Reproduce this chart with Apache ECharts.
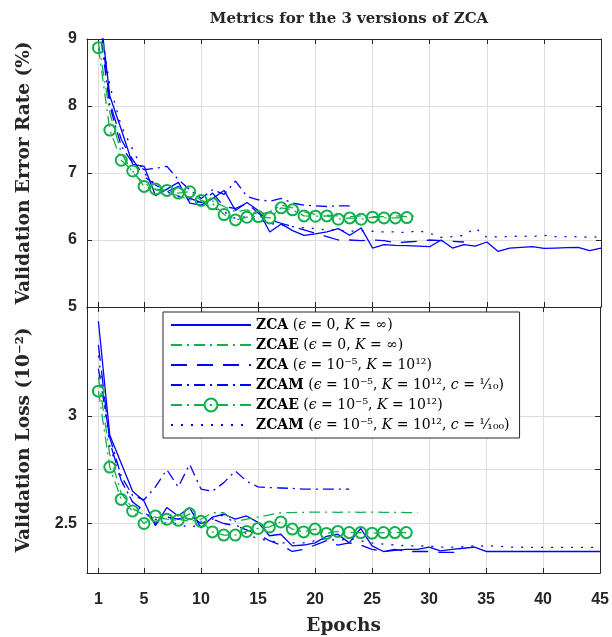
<!DOCTYPE html>
<html><head><meta charset="utf-8">
<script src="https://cdn.jsdelivr.net/npm/echarts@6/dist/echarts.min.js"></script>
<style>html,body{margin:0;padding:0;background:#fff}#c{width:612px;height:637px}</style>
</head><body><div id="c"></div>
<script>
// ---- data ----
const tickEpochs = [1, 5, 10, 15, 20, 25, 30, 35, 40, 45];
const errTicks = [5, 6, 7, 8, 9];
const lossTicks = [2.5, 2.75, 3];
const lossLabels = [2.5, 3];

const seriesNames = [
  'ZCA (eps=0, K=inf)',
  'ZCAE (eps=0, K=inf)',
  'ZCA (eps=1e-5, K=1e12)',
  'ZCAM (eps=1e-5, K=1e12, c=1/10)',
  'ZCAE (eps=1e-5, K=1e12)',
  'ZCAM (eps=1e-5, K=1e12, c=1/100)'
];

// Validation error rate (%)
const errZCA = [9.6, 8.15, 7.65, 7.13, 7.10, 6.66, 6.76, 6.86, 6.55, 6.52, 6.62, 6.74, 6.44, 6.56, 6.44, 6.12, 6.24, 6.14, 6.07, 6.09, 6.12, 6.17, 6.07, 6.18, 5.88, 5.93, 5.92, 5.915, 5.91, 5.90, 6.00, 5.88, 5.93, 5.91, 5.97, 5.83, 5.88, 5.89, 5.90, 5.875, 5.88, 5.885, 5.89, 5.84, 5.88];
const errZCAE0 = [8.95, 7.9, 7.3, 7.0, 6.85, 6.75, 6.72, 6.66, 6.6, 6.56, 6.58, 6.5, 6.42, 6.45, 6.38, 6.42, 6.52, 6.48, 6.42, 6.38, 6.37, 6.36, 6.35, 6.36, 6.35, 6.35, 6.36, 6.35, 6.36];
const errZCAeps = [9.5, 8.05, 7.5, 7.2, 6.95, 6.82, 6.72, 6.8, 6.62, 6.56, 6.7, 6.5, 6.47, 6.55, 6.4, 6.3, 6.25, 6.2, 6.15, 6.1, 6.05, 6.0, 6.0, 5.99, 6.0, 5.99, 5.96, 5.97, 5.98, 6.0, 5.99, 5.98, 5.97];
const errZCAM10 = [9.3, 8.0, 7.4, 7.15, 7.05, 7.07, 7.1, 6.9, 6.75, 6.62, 6.75, 6.68, 6.88, 6.65, 6.6, 6.58, 6.62, 6.55, 6.52, 6.51, 6.5, 6.51, 6.51];
const errZCAEeps = [8.87, 7.64, 7.19, 7.03, 6.80, 6.76, 6.74, 6.70, 6.72, 6.59, 6.54, 6.38, 6.30, 6.34, 6.35, 6.33, 6.48, 6.45, 6.36, 6.355, 6.36, 6.31, 6.33, 6.31, 6.34, 6.33, 6.33, 6.335];
const errZCAM100 = [9.4, 8.3, 7.7, 7.35, 7.0, 6.82, 6.72, 6.65, 6.6, 6.55, 6.48, 6.42, 6.32, 6.35, 6.3, 6.25, 6.22, 6.2, 6.18, 6.17, 6.15, 6.15, 6.13, 6.14, 6.13, 6.12, 6.12, 6.11, 6.14, 6.10, 6.04, 6.05, 6.07, 6.18, 6.04, 6.05, 6.05, 6.06, 6.05, 6.07, 6.05, 6.05, 6.05, 6.04, 6.05];

// Validation loss (10^-2)
const lossZCA = [3.44, 2.91, 2.78, 2.65, 2.605, 2.49, 2.574, 2.535, 2.574, 2.48, 2.53, 2.543, 2.52, 2.535, 2.505, 2.443, 2.45, 2.396, 2.40, 2.41, 2.44, 2.45, 2.41, 2.477, 2.396, 2.37, 2.375, 2.38, 2.38, 2.39, 2.373, 2.38, 2.385, 2.39, 2.37, 2.37, 2.37, 2.37, 2.37, 2.37, 2.37, 2.37, 2.37, 2.37, 2.37];
const lossZCAE0 = [3.18, 2.82, 2.64, 2.57, 2.54, 2.53, 2.52, 2.52, 2.51, 2.52, 2.55, 2.55, 2.51, 2.52, 2.53, 2.54, 2.55, 2.551, 2.552, 2.553, 2.553, 2.552, 2.553, 2.552, 2.553, 2.552, 2.552, 2.551, 2.551];
const lossZCAeps = [3.33, 2.88, 2.7, 2.6, 2.56, 2.5, 2.53, 2.52, 2.54, 2.5, 2.52, 2.5, 2.49, 2.47, 2.45, 2.42, 2.40, 2.37, 2.38, 2.40, 2.42, 2.40, 2.41, 2.40, 2.38, 2.37, 2.38, 2.37, 2.37, 2.37, 2.366, 2.366, 2.366];
const lossZCAM10 = [3.22, 2.9, 2.72, 2.63, 2.61, 2.67, 2.75, 2.67, 2.775, 2.66, 2.65, 2.69, 2.744, 2.697, 2.67, 2.667, 2.665, 2.663, 2.66, 2.66, 2.66, 2.66, 2.66];
const lossZCAEeps = [3.115, 2.762, 2.612, 2.558, 2.50, 2.535, 2.52, 2.515, 2.545, 2.51, 2.461, 2.446, 2.446, 2.463, 2.477, 2.484, 2.507, 2.474, 2.461, 2.474, 2.454, 2.463, 2.458, 2.458, 2.455, 2.458, 2.458, 2.458];
const lossZCAM100 = [3.28, 2.86, 2.7, 2.6, 2.55, 2.52, 2.5, 2.5, 2.48, 2.5, 2.52, 2.54, 2.5, 2.45, 2.43, 2.42, 2.41, 2.41, 2.41, 2.42, 2.43, 2.42, 2.43, 2.42, 2.41, 2.404, 2.40, 2.396, 2.396, 2.395, 2.39, 2.39, 2.392, 2.396, 2.395, 2.396, 2.39, 2.39, 2.389, 2.389, 2.389, 2.389, 2.389, 2.389, 2.389];

// ---- styling ----
const BLUE = '#0000ff';
const GREEN = '#12b04c';
const AX = '#262626';
const GRIDC = '#dedede';
const CLEAR = 'rgba(0,0,0,0)';
const styles = [
  { color: BLUE, type: 'solid', sym: 'none' },
  { color: GREEN, type: [11, 5, 2, 5], sym: 'none' },
  { color: BLUE, type: [16, 10], sym: 'none' },
  { color: BLUE, type: [11, 5, 2, 5], sym: 'none' },
  { color: GREEN, type: [11, 5, 2, 5], sym: 'circle' },
  { color: BLUE, type: [2, 8], sym: 'none' }
];
const errSets = [errZCA, errZCAE0, errZCAeps, errZCAM10, errZCAEeps, errZCAM100];
const lossSets = [lossZCA, lossZCAE0, lossZCAeps, lossZCAM10, lossZCAEeps, lossZCAM100];

const legendRich = {
  [seriesNames[0]]: '{b|ZCA} {n|(}{i|ϵ}{n| = 0, }{i|K}{n| = ∞)}',
  [seriesNames[1]]: '{b|ZCAE} {n|(}{i|ϵ}{n| = 0, }{i|K}{n| = ∞)}',
  [seriesNames[2]]: '{b|ZCA} {n|(}{i|ϵ}{n| = 10⁻⁵, }{i|K}{n| = 10¹²)}',
  [seriesNames[3]]: '{b|ZCAM} {n|(}{i|ϵ}{n| = 10⁻⁵, }{i|K}{n| = 10¹², }{i|c}{n| = ¹⁄₁₀)}',
  [seriesNames[4]]: '{b|ZCAE} {n|(}{i|ϵ}{n| = 10⁻⁵, }{i|K}{n| = 10¹²)}',
  [seriesNames[5]]: '{b|ZCAM} {n|(}{i|ϵ}{n| = 10⁻⁵, }{i|K}{n| = 10¹², }{i|c}{n| = ¹⁄₁₀₀)}'
};

function pairs(arr) { return arr.map((v, i) => [i + 1, v]); }

const series = [];
[errSets, lossSets].forEach((sets, g) => {
  sets.forEach((arr, k) => {
    const st = styles[k];
    const marked = st.sym !== 'none';
    series.push({
      type: 'line',
      name: seriesNames[k],
      xAxisIndex: g * 2,
      yAxisIndex: g * 2,
      data: pairs(arr),
      symbol: marked ? 'circle' : 'none',
      showSymbol: marked,
      symbolSize: 11,
      clip: true,
      z: marked ? 3 : 2,
      lineStyle: { color: st.color, width: 1.3, type: st.type },
      itemStyle: marked
        ? { color: CLEAR, borderColor: st.color, borderWidth: 2 }
        : { color: CLEAR, borderColor: CLEAR, borderWidth: 0 },
      emphasis: { disabled: true },
      silent: true
    });
  });
});

const tickLabelStyle = { fontFamily: 'Liberation Sans', fontWeight: 'bold', fontSize: 16, color: AX };
const nameStyle = { fontFamily: 'DejaVu Serif', fontWeight: 'bold', fontSize: 18.5, color: AX };

function xAx(grid, pos, labels) {
  return {
    type: 'value', gridIndex: grid, position: pos, min: 0, max: 45,
    axisLine: { show: true, onZero: false, lineStyle: { color: AX, width: 1 } },
    axisTick: { show: true, inside: true, length: 5, customValues: tickEpochs, lineStyle: { color: AX } },
    axisLabel: labels ? { show: true, customValues: tickEpochs, margin: 19, ...tickLabelStyle } : { show: false },
    splitLine: { show: pos === 'bottom', lineStyle: { color: GRIDC, width: 1 } },
    name: labels ? 'Epochs' : '', nameLocation: 'middle', nameGap: 44, nameTextStyle: nameStyle
  };
}
function yAx(grid, pos, min, max, ticks, labels, name) {
  return {
    type: 'value', gridIndex: grid, position: pos, min: min, max: max,
    axisLine: { show: true, onZero: false, lineStyle: { color: AX, width: 1 } },
    axisTick: { show: true, inside: true, length: 5, customValues: ticks, lineStyle: { color: AX } },
    axisLabel: labels ? { show: true, customValues: labels, margin: 10, ...tickLabelStyle } : { show: false },
    splitLine: { show: pos === 'left', lineStyle: { color: GRIDC, width: 1 } },
    name: name || '', nameLocation: 'middle', nameGap: 53, nameRotate: 90, nameTextStyle: nameStyle
  };
}

const chart = echarts.init(document.getElementById('c'), null, { renderer: 'canvas' });
chart.setOption({
  animation: false,
  backgroundColor: '#fff',
  title: {
    text: 'Metrics for the 3 versions of ZCA', left: 344, top: 7, textAlign: 'center',
    textStyle: { fontFamily: 'DejaVu Serif', fontWeight: 'bold', fontSize: 15, color: AX }
  },
  grid: [
    { left: 87, top: 39, width: 514, height: 268 },
    { left: 87, top: 307, width: 514, height: 267 }
  ],
  xAxis: [xAx(0, 'bottom', false), xAx(0, 'top', false), xAx(1, 'bottom', true), xAx(1, 'top', false)],
  yAxis: [
    yAx(0, 'left', 5, 9, errTicks, errTicks, 'Validation Error Rate (%)'),
    yAx(0, 'right', 5, 9, errTicks, null),
    yAx(1, 'left', 2.27, 3.506, lossTicks, lossLabels, 'Validation Loss (10⁻²)'),
    yAx(1, 'right', 2.27, 3.506, lossTicks, null)
  ],
  legend: {
    data: seriesNames, orient: 'vertical', left: 163, top: 312,
    padding: [5, 10, 5, 7], itemWidth: 80, itemHeight: 16, itemGap: 4,
    backgroundColor: '#fff', borderColor: AX, borderWidth: 1, borderRadius: 0,
    selectedMode: false,
    formatter: n => legendRich[n],
    textStyle: {
      color: '#000', fontSize: 14, fontFamily: 'DejaVu Serif', lineHeight: 16,
      rich: {
        b: { fontFamily: 'DejaVu Serif', fontWeight: 'bold', fontSize: 14, color: '#000' },
        n: { fontFamily: 'DejaVu Serif', fontSize: 14, color: '#000' },
        i: { fontFamily: 'DejaVu Serif', fontStyle: 'italic', fontSize: 14, color: '#000' }
      }
    }
  },
  series: series
});
</script>
</body></html>
